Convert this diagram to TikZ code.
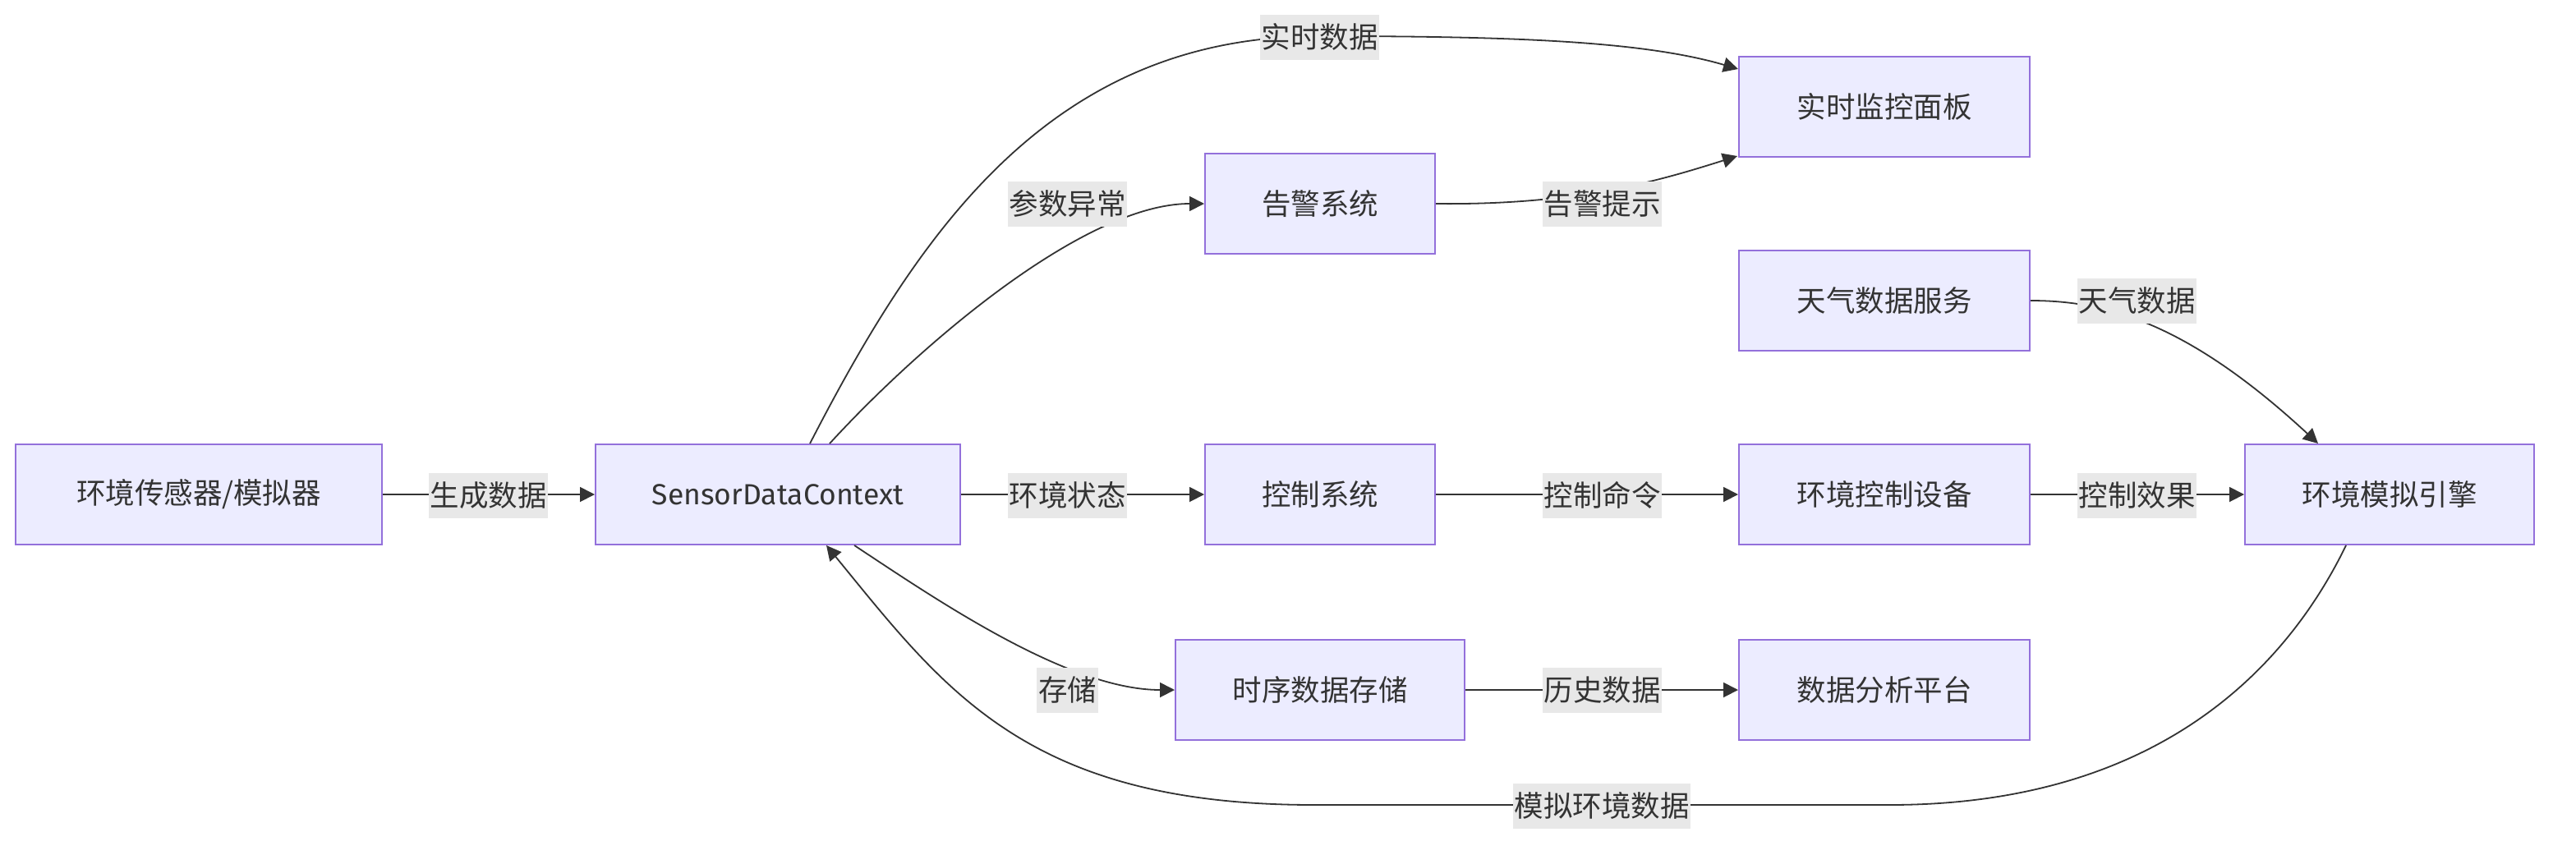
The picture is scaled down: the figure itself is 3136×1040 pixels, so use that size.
\documentclass[tikz,border=0pt]{standalone}
\usepackage{fontspec}
\setmainfont{Fira Sans}
\newfontfamily\cjk{Noto Sans CJK SC}
\usetikzlibrary{arrows.meta,calc}
\definecolor{nodefill}{HTML}{ECECFF}
\definecolor{nodeline}{HTML}{9370DB}
\definecolor{txt}{HTML}{333333}
\definecolor{labbg}{HTML}{E8E8E8}
\begin{document}
\begin{tikzpicture}[x=0.5pt,y=-0.5pt,
  box/.style={draw=nodeline, fill=nodefill, line width=1pt, text=txt,
    font=\fontsize{17.75pt}{20pt}\selectfont\cjk, minimum height=61pt, inner sep=0pt},
  latin/.style={font=\fontsize{17.75pt}{20pt}\selectfont},
  lab/.style={fill=labbg, text=txt, font=\fontsize{17.75pt}{20pt}\selectfont\cjk,
    inner xsep=0.8pt, inner ysep=0pt, minimum height=27.5pt},
  edge/.style={draw=txt, line width=0.9pt, -{Triangle[length=9pt,width=9pt]}}]
\useasboundingbox (0,0) rectangle (3136,1040);

% nodes
\node[box, minimum width=223pt] (sensor) at (242,602) {环境传感器/模拟器};
\node[box, latin, minimum width=222pt] (sdc) at (947,602) {SensorDataContext};
\node[box, minimum width=140pt] (ctrl) at (1607,602) {控制系统};
\node[box, minimum width=177pt] (dev) at (2294,602) {环境控制设备};
\node[box, minimum width=176pt] (engine) at (2909,602) {环境模拟引擎};
\node[box, minimum width=140pt] (alarm) at (1607,248) {告警系统};
\node[box, minimum width=177pt] (monitor) at (2294,130) {实时监控面板};
\node[box, minimum width=177pt] (weather) at (2294,366) {天气数据服务};
\node[box, minimum width=176pt] (tsdb) at (1607,840) {时序数据存储};
\node[box, minimum width=177pt] (analysis) at (2294,840) {数据分析平台};

% connectors
\draw[edge] (sensor) -- (sdc);
\draw[edge] (sdc) -- (ctrl);
\draw[edge] (ctrl) -- (dev);
\draw[edge] (dev) -- (engine);
\draw[edge] (tsdb) -- (analysis);
\draw[edge] ($(sdc.north)+(39,0)$) .. controls (1120,280) and (1280,44) .. (1606,44)
  .. controls (1840,44) and (2000,50) .. ($(monitor.west)+(0,-46)$);
\draw[edge] ($(sdc.north)+(63,0)$) .. controls (1120,420) and (1320,248) .. (alarm.west);
\draw[edge] (alarm.east) .. controls (1920,250) and (2020,220) .. ($(monitor.south west)+(-1,-2)$);
\draw[edge] (weather.east) .. controls (2560,366) and (2660,390) .. ($(engine.north)+(-87,0)$);
\draw[edge] ($(sdc.south)+(93,0)$) .. controls (1140,730) and (1300,840) .. (tsdb.west);
\draw[edge] ($(engine.south)+(-53,0)$) .. controls (2790,800) and (2640,980) .. (2300,980)
  -- (1600,980) .. controls (1250,980) and (1150,840) .. ($(sdc.south)+(59,0)$);

% labels
\node[lab] (l1) at (594.5,603) {生成数据};
\node[lab] (l2) at (1299.5,603) {环境状态};
\node[lab] (l3) at (1950.5,603) {控制命令};
\node[lab] (l4) at (2601.5,603) {控制效果};
\node[lab] (l5) at (1299.5,248) {参数异常};
\node[lab] (l6) at (1606.5,45) {实时数据};
\node[lab] (l7) at (1950.5,248) {告警提示};
\node[lab] (l8) at (2601.5,366) {天气数据};
\node[lab] (l9) at (1299.5,840) {存储};
\node[lab] (l10) at (1950.5,840) {历史数据};
\node[lab] (l11) at (1950,981) {模拟环境数据};
\end{tikzpicture}
\end{document}
